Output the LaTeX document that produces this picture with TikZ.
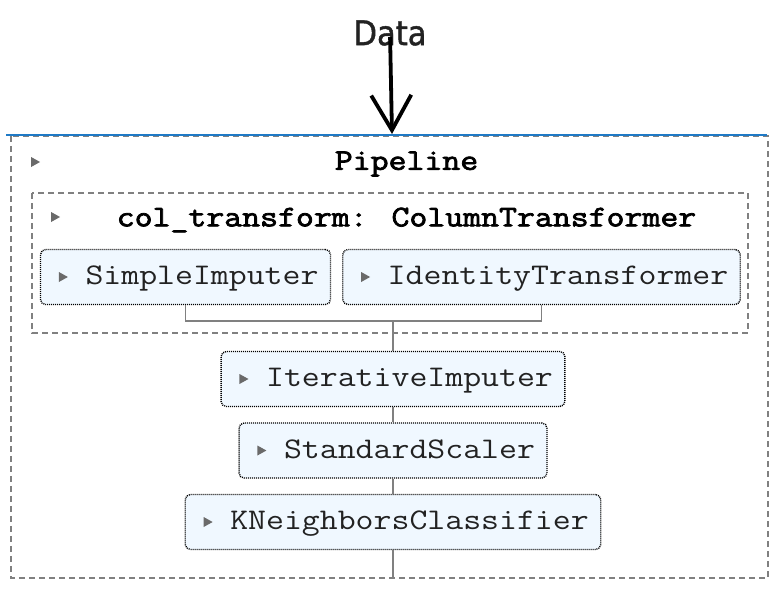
\documentclass[tikz,border=0pt]{standalone}
\usepackage{fontspec}
\usepackage{tikz}
\usetikzlibrary{shapes,arrows}
\usetikzlibrary{arrows.meta,positioning,calc}
\newfontfamily\monofont{Latin Modern Mono}[FakeStretch=1.16]
\newfontfamily\headfont{Latin Modern Mono}[FakeStretch=1.16, FakeBold=2.5]
\newfontfamily\datafont{DejaVu Sans Condensed}[FakeBold=1.2]
\definecolor{boxblue}{HTML}{F0F8FF}
\definecolor{linegray}{HTML}{808080}
\definecolor{trigray}{HTML}{6A6A6A}
\definecolor{barblue}{HTML}{1F7AC6}
\definecolor{txtgray}{HTML}{222222}

\begin{document}
\begin{tikzpicture}[x=1pt, y=1pt, semithick, node distance=71.5pt]
\tikzstyle{est}=[draw=black, line width=1.4pt, dash pattern=on 1pt off 1pt, rounded corners=5pt, fill=boxblue, minimum height=55pt, inner xsep=12pt, text height=21pt, text depth=6pt, text=txtgray, font=\monofont\fontsize{30}{30}\selectfont]
\tikzstyle{head}=[text=black, font=\headfont\fontsize{30}{30}\selectfont]
\tikzstyle{grp}=[draw=linegray, line width=1.5pt, dash pattern=on 6pt off 4pt]
\tikzstyle{conn}=[draw=linegray, line width=1.8pt]
\tikzstyle{tri}=[isosceles triangle, isosceles triangle stretches, minimum width=10pt, minimum height=9pt, inner sep=0pt, fill=trigray]
\useasboundingbox (0,0) rectangle (775,-591);

% input arrow and pipeline frame
\node[font=\datafont\fontsize{34}{34}\selectfont, text=txtgray] (data) at (390,-33) {Data};
\draw[grp] (11,-136) rectangle (768,-578);
\draw[grp] (32,-193) rectangle (748,-333);
\draw[barblue, line width=2.2pt] (6,-135) -- (767,-135);
\coordinate (in) at (392,-134);
\draw[black, line width=3.8pt, -{Straight Barb[length=35pt, width=40pt, line width=3.8pt]}, shorten <=4pt] (data.center) -- (in);

\node[head] (pl) at (406.5,-164) {Pipeline};
\node[head] (ct) at (406.5,-220) {col\_transform: ColumnTransformer};
\node[tri] (t1) at (34,-162) {};
\node[tri] (t2) at (54,-217) {};

% steps
\node[est] (si) at (185.5,-277) {\hspace*{33pt}SimpleImputer};
\node[est] (it) at (541.5,-277) {\hspace*{33pt}IdentityTransformer};
\node[est] (ii) at (393,-379) {\hspace*{33pt}IterativeImputer};
\node[est] (ss) [below of=ii] {\hspace*{33pt}StandardScaler};
\node[est] (kn) [below of=ss] {\hspace*{33pt}KNeighborsClassifier};
\foreach \b in {si,it,ii,ss,kn}
  \node[tri] at ([xshift=22pt]\b.west) {};

\coordinate (jn) at (393,-321);
\coordinate (out) at (393,-578);
\path[conn]
(si.south) |- (jn) -| (it.south)
(jn) -- (ii.north)
(ii.south) -- (ss.north)
(ss.south) -- (kn.north)
(kn.south) -- (out);

\end{tikzpicture}
\end{document}
